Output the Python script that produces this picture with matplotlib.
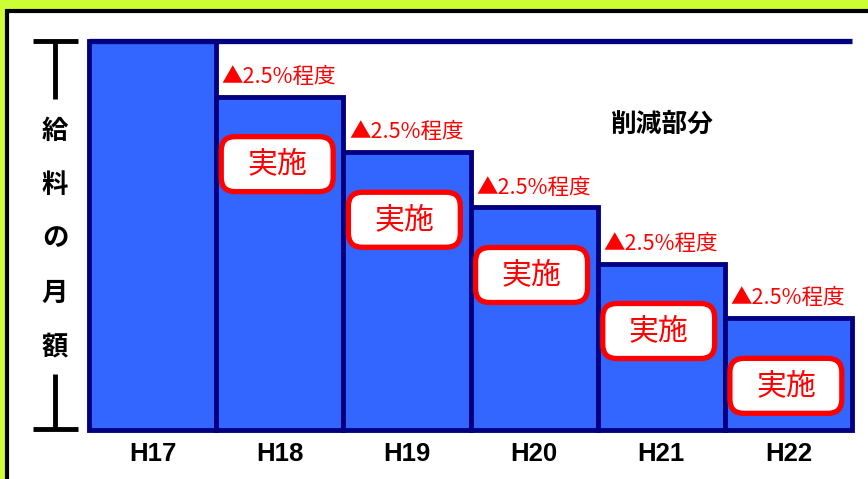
import matplotlib
matplotlib.use("Agg")
import matplotlib.pyplot as plt
from matplotlib import font_manager
from matplotlib.patches import Rectangle, FancyBboxPatch

# データ
years = ["H17", "H18", "H19", "H20", "H21", "H22"]
salary = [100, 85.7, 71.4, 57.2, 42.8, 28.7]
cut_label = "▲2.5%程度"
done_label = "実施"
ylabel_chars = ["給", "料", "の", "月", "額"]
note_label = "削減部分"

BAR_BLUE = "#3366FF"
NAVY = "#000080"
RED = "#FF0000"
JP = ["Noto Sans CJK JP", "DejaVu Sans"]

installed = {f.name for f in font_manager.fontManager.ttflist}
narrow = "Liberation Sans Narrow" if "Liberation Sans Narrow" in installed else "Liberation Sans"
tick_size = 22 if narrow == "Liberation Sans Narrow" else 18.5

W, H = 868, 479
fig = plt.figure(figsize=(W / 100, H / 100), dpi=100, facecolor="#CCFF33")

# 背景の枠と縦軸の括弧（ピクセル座標）
deco = fig.add_axes([0, 0, 1, 1], zorder=0)
deco.set_xlim(0, W)
deco.set_ylim(H, 0)
deco.axis("off")
deco.add_patch(Rectangle((7, 11), W + 50, H + 50, fc="white", ec="black", lw=3, clip_on=False))
for y_cap, y_end in [(41, 99), (429, 374)]:
    deco.plot([33, 78], [y_cap, y_cap], color="black", lw=3.5, solid_capstyle="butt")
    deco.plot([54.5, 54.5], [y_cap, y_end], color="black", lw=3.5, solid_capstyle="butt")
for k, ch in enumerate(ylabel_chars):
    deco.text(55, 131 + k * 54, ch, ha="center", va="center", fontsize=19,
              fontweight="bold", family=JP, color="black")

# 棒グラフ
ax = fig.add_axes([89 / W, 49 / H, (852 - 89) / W, (430 - 41) / H], zorder=1)
ax.set_xlim(0, len(years))
ax.set_ylim(0, 100)
ax.axis("off")

ax.bar(range(len(years)), salary, width=1, align="edge", color=BAR_BLUE,
       edgecolor=NAVY, linewidth=3.5, clip_on=False, zorder=2)
ax.hlines(salary[0], 0, len(years), color=NAVY, lw=3.8, zorder=3, clip_on=False)

# 1データ単位あたりのピクセル
px_y = (430 - 41) / 100
px_x = (852 - 89) / len(years)

for i, (yr, val) in enumerate(zip(years, salary)):
    ax.annotate(yr, (i + 0.5, 0), xytext=(0, -17), textcoords="offset points",
                ha="center", va="center", fontsize=tick_size, fontweight="bold",
                family=[narrow, "DejaVu Sans"], color="black", annotation_clip=False)
    if i == 0:
        continue
    ax.annotate(cut_label, (i, val), xytext=(4, 10), textcoords="offset points",
                ha="left", va="baseline", fontsize=15.5, color=RED, family=JP,
                annotation_clip=False)
    box_top = val - 40 / px_y
    box_h = 55 / px_y
    box = FancyBboxPatch((i + 0.04, box_top - box_h), 0.88, box_h,
                         boxstyle="round,pad=0,rounding_size=0.11",
                         mutation_aspect=px_x / px_y, fc="white", ec=RED,
                         lw=3.8, zorder=4, clip_on=False)
    ax.add_patch(box)
    ax.text(i + 0.48, box_top - box_h / 2, done_label, ha="center", va="center",
            fontsize=21.5, color=RED, family=JP, zorder=5)

ax.text(4.5, 78.5, note_label, ha="center", va="center", fontsize=18.5,
        fontweight="bold", family=JP, color="black")

fig.savefig("out.png", dpi=100, facecolor=fig.get_facecolor())
